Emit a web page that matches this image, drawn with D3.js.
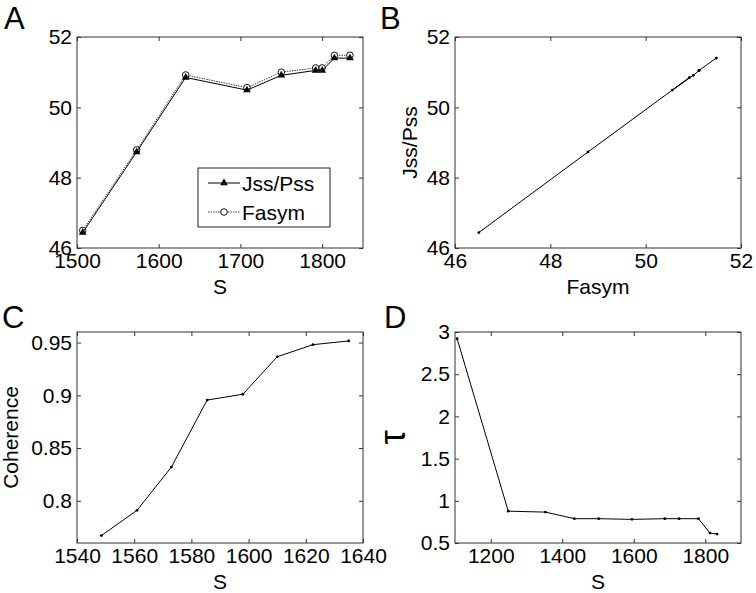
<!DOCTYPE html>
<html>
<head>
<meta charset="utf-8">
<script src="https://cdn.jsdelivr.net/npm/d3@7"></script>
<style>
  body { margin: 0; background: #fff; }
  svg { display: block; font-family: "Liberation Sans", Arial, Helvetica, sans-serif; }
  .tick text { font-size: 21px; fill: #000; }
  .axis-label { font-size: 21px; fill: #000; }
  .panel-letter { font-size: 31px; fill: #000; }
</style>
</head>
<body>
<svg id="fig"></svg>
<script>
// ---- data ----
// Panel A / B : two asymmetry measures against S
const sA = [1507, 1573, 1633, 1708, 1750, 1792, 1800, 1815, 1834];
const jssPss = [46.44, 48.73, 50.85, 50.49, 50.91, 51.05, 51.05, 51.40, 51.40];
const fasym = [46.50, 48.79, 50.92, 50.56, 51.00, 51.12, 51.12, 51.48, 51.48];

// Panel C : coherence
const sC = [1548.5, 1561, 1573, 1585.5, 1598, 1610, 1622.5, 1635];
const coherence = [0.767, 0.791, 0.832, 0.8955, 0.901, 0.9365, 0.948, 0.9515];

// Panel D : tau
const sD = [1106, 1249, 1353, 1434, 1502, 1595, 1687, 1727, 1781, 1813, 1833];
const tau = [2.92, 0.877, 0.866, 0.788, 0.788, 0.780, 0.788, 0.788, 0.788, 0.618, 0.606];

// tick labels
const ticksAx = [1500, 1600, 1700, 1800];
const ticksAy = [46, 48, 50, 52];
const ticksBx = [46, 48, 50, 52];
const ticksCx = [1540, 1560, 1580, 1600, 1620, 1640];
const ticksCy = [0.8, 0.85, 0.9, 0.95];
const ticksDx = [1200, 1400, 1600, 1800];
const ticksDy = [0.5, 1, 1.5, 2, 2.5, 3];

const legendNames = ['Jss/Pss', 'Fasym'];

// ---- layout ----
const W = 756, H = 593;
const boxW = 286, boxH = 211;
const svg = d3.select('#fig').attr('width', W).attr('height', H);

const line = d3.line();

function makePanel(cfg) {
  const g = svg.append('g').attr('transform', `translate(${cfg.left},${cfg.top})`);
  const x = d3.scaleLinear().domain(cfg.xDomain).range([0, boxW]);
  const y = d3.scaleLinear().domain(cfg.yDomain).range([boxH, 0]);

  // box
  g.append('rect')
    .attr('width', boxW).attr('height', boxH)
    .attr('fill', 'none').attr('stroke', '#333').attr('stroke-width', 1);

  // labelled axes (ticks point inwards)
  const fmt = cfg.fmt || (d => d);
  const xAxis = g.append('g').attr('transform', `translate(0,${boxH})`)
    .call(d3.axisBottom(x).tickValues(cfg.xTicks).tickFormat(fmt).tickSize(-4).tickSizeOuter(0).tickPadding(5));
  const yAxis = g.append('g')
    .call(d3.axisLeft(y).tickValues(cfg.yTicks).tickFormat(d => d).tickSize(-4).tickSizeOuter(0).tickPadding(5));
  // mirrored ticks on top and right
  const xTop = g.append('g')
    .call(d3.axisTop(x).tickValues(cfg.xTicks).tickFormat('').tickSize(-4).tickSizeOuter(0));
  const yRight = g.append('g').attr('transform', `translate(${boxW},0)`)
    .call(d3.axisRight(y).tickValues(cfg.yTicks).tickFormat('').tickSize(-4).tickSizeOuter(0));
  [xAxis, yAxis, xTop, yRight].forEach(a => {
    a.select('.domain').remove();
    a.selectAll('.tick line').attr('stroke', '#333');
    a.selectAll('.tick text').style('font-family', null);
    a.attr('font-family', null).attr('font-size', null);
  });

  // x label
  g.append('text').attr('class', 'axis-label')
    .attr('x', boxW / 2).attr('y', boxH + 46)
    .attr('text-anchor', 'middle')
    .text(cfg.xLabel);

  // y label
  if (cfg.yLabel) {
    g.append('text').attr('class', 'axis-label')
      .attr('transform', `translate(${cfg.yLabelX},${boxH / 2}) rotate(-90)`)
      .attr('text-anchor', 'middle')
      .style('font-size', cfg.yLabelSize || null)
      .text(cfg.yLabel);
  }

  // panel letter
  svg.append('text').attr('class', 'panel-letter')
    .attr('x', cfg.letterX).attr('y', cfg.letterY)
    .text(cfg.letter);

  return {g, x, y};
}

// ---- Panel A ----
const pA = makePanel({
  left: 77, top: 37, xDomain: [1500, 1850], yDomain: [46, 52],
  xTicks: ticksAx, yTicks: ticksAy, xLabel: 'S',
  letter: 'A', letterX: 4, letterY: 29
});
const ptsFasym = sA.map((s, i) => [pA.x(s), pA.y(fasym[i])]);
const ptsJss = sA.map((s, i) => [pA.x(s), pA.y(jssPss[i])]);

pA.g.append('path').attr('d', line(ptsFasym))
  .attr('fill', 'none').attr('stroke', '#444').attr('stroke-width', 1)
  .attr('stroke-dasharray', '1.5,1');
pA.g.selectAll('.circ').data(ptsFasym).join('circle')
  .attr('class', 'circ')
  .attr('cx', d => d[0]).attr('cy', d => d[1]).attr('r', 3.3)
  .attr('fill', '#fff').attr('stroke', '#111').attr('stroke-width', 1);

pA.g.append('path').attr('d', line(ptsJss))
  .attr('fill', 'none').attr('stroke', '#000').attr('stroke-width', 1);
const tri = d3.symbol().type(d3.symbolTriangle).size(26);
pA.g.selectAll('.tri').data(ptsJss).join('path')
  .attr('class', 'tri')
  .attr('transform', d => `translate(${d[0]},${d[1]})`)
  .attr('d', tri).attr('fill', '#000');

// legend
const leg = pA.g.append('g').attr('transform', 'translate(121,131)');
leg.append('rect').attr('width', 132).attr('height', 59)
  .attr('fill', '#fff').attr('stroke', '#222').attr('stroke-width', 1);
legendNames.forEach((name, i) => {
  const ly = 15 + i * 29;
  const row = leg.append('g').attr('transform', `translate(0,${ly})`);
  if (i === 0) {
    row.append('line').attr('x1', 10).attr('x2', 42).attr('stroke', '#000');
    row.append('path').attr('transform', 'translate(26,0)').attr('d', tri).attr('fill', '#000');
  } else {
    row.append('line').attr('x1', 10).attr('x2', 42).attr('stroke', '#444').attr('stroke-dasharray', '1.5,1');
    row.append('circle').attr('cx', 26).attr('r', 3.3).attr('fill', '#fff').attr('stroke', '#111');
  }
  row.append('text').attr('class', 'axis-label').attr('x', 44).attr('dy', '0.36em').text(name);
});

// ---- Panel B ----
const pB = makePanel({
  left: 455, top: 37, xDomain: [46, 52], yDomain: [46, 52],
  xTicks: ticksBx, yTicks: ticksAy, xLabel: 'Fasym',
  yLabel: 'Jss/Pss', yLabelX: -38,
  letter: 'B', letterX: 380, letterY: 29
});
const ptsB = fasym.map((f, i) => [pB.x(f), pB.y(jssPss[i])]);
pB.g.append('path').attr('d', line(ptsB))
  .attr('fill', 'none').attr('stroke', '#000').attr('stroke-width', 1);
pB.g.selectAll('.dot').data(ptsB).join('circle')
  .attr('cx', d => d[0]).attr('cy', d => d[1]).attr('r', 1.4).attr('fill', '#000');

// ---- Panel C ----
const pC = makePanel({
  left: 77, top: 332, xDomain: [1540, 1640], yDomain: [0.76, 0.96],
  xTicks: ticksCx, yTicks: ticksCy, xLabel: 'S',
  yLabel: 'Coherence', yLabelX: -59,
  letter: 'C', letterX: 2, letterY: 328
});
const ptsC = sC.map((s, i) => [pC.x(s), pC.y(coherence[i])]);
pC.g.append('path').attr('d', line(ptsC))
  .attr('fill', 'none').attr('stroke', '#000').attr('stroke-width', 1);
pC.g.selectAll('.dot').data(ptsC).join('circle')
  .attr('cx', d => d[0]).attr('cy', d => d[1]).attr('r', 1.4).attr('fill', '#000');

// ---- Panel D ----
const pD = makePanel({
  left: 455, top: 332, xDomain: [1100, 1900], yDomain: [0.5, 3],
  xTicks: ticksDx, yTicks: ticksDy, xLabel: 'S',
  yLabel: 'τ', yLabelX: -50, yLabelSize: '36px',
  letter: 'D', letterX: 384, letterY: 328
});
const ptsD = sD.map((s, i) => [pD.x(s), pD.y(tau[i])]);
pD.g.append('path').attr('d', line(ptsD))
  .attr('fill', 'none').attr('stroke', '#000').attr('stroke-width', 1);
pD.g.selectAll('.dot').data(ptsD).join('circle')
  .attr('cx', d => d[0]).attr('cy', d => d[1]).attr('r', 1.4).attr('fill', '#000');
</script>
</body>
</html>
